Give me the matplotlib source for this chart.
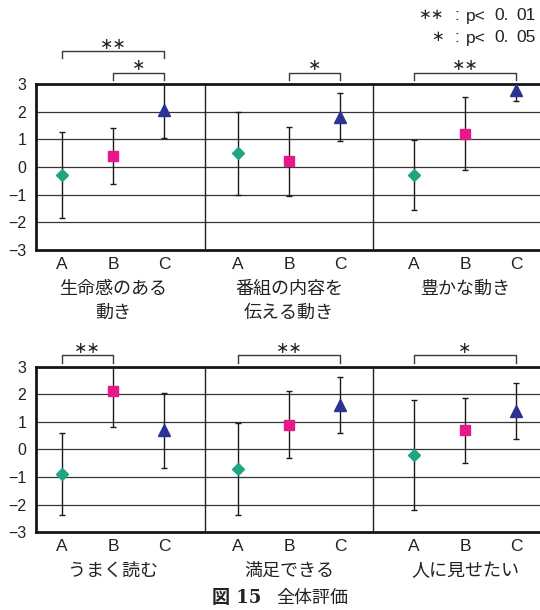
import matplotlib
matplotlib.use('Agg')
import matplotlib.pyplot as plt
from matplotlib.transforms import blended_transform_factory, offset_copy

# ---------------- data ----------------
conditions = ['A', 'B', 'C']
top_titles = [['生命感のある', '動き'], ['番組の内容を', '伝える動き'], ['豊かな動き']]
bottom_titles = [['うまく読む'], ['満足できる'], ['人に見せたい']]

top_means = [[-0.3, 0.4, 2.05], [0.5, 0.2, 1.8], [-0.3, 1.2, 2.8]]
top_err = [[1.55, 1.02, 1.0], [1.5, 1.25, 0.86], [1.27, 1.32, 0.4]]
bottom_means = [[-0.88, 2.12, 0.7], [-0.7, 0.9, 1.6], [-0.2, 0.7, 1.4]]
bottom_err = [[1.49, 1.32, 1.36], [1.67, 1.22, 1.02], [2.0, 1.18, 1.02]]

ST = '\u2217'
# (from condition, to condition, bracket level, label)
top_sig = [[(0, 2, 2, ST * 2), (1, 2, 1, ST)], [(1, 2, 1, ST)], [(0, 2, 1, ST * 2)]]
bottom_sig = [[(0, 1, 1, ST * 2)], [(0, 2, 1, ST * 2)], [(0, 2, 1, ST)]]

legend_marks = [ST * 2, ST]
legend_pieces = [[':', 'p<', '0.', '01'], [':', 'p<', '0.', '05']]
caption_num = '図 15'
caption_title = '全体評価'
y_ticks = [-3, -2, -1, 0, 1, 2, 3]

# ---------------- style ----------------
plt.rcParams['font.family'] = ['Liberation Sans', 'Noto Sans CJK JP', 'DejaVu Sans']
CJK = ['Noto Sans CJK JP', 'DejaVu Sans']
markers = ['D', 's', '^']
msizes = [6.0, 7.2, 8.0]
colors = ['#1fa585', '#e8178a', '#2c3192']
group_off = [0.0, 3.45, 6.9]
dividers = [2.80, 6.10]
XLIM = (-0.51, 9.37)
level_y = {1: 3.41, 2: 4.19}
leg = 0.26
TXT = '#222222'

W, H = 540, 610
fig = plt.figure(figsize=(W / 100, H / 100), dpi=100)
ax_top = fig.add_axes([36 / W, 1 - 250 / H, 1 - 36 / W, 166 / H])
ax_bot = fig.add_axes([36 / W, 1 - 532.3 / H, 1 - 36 / W, 165.6 / H])


def draw_row(ax, means, errs, titles, sigs):
    ax.set_xlim(*XLIM)
    ax.set_ylim(-3, 3)
    for yv in y_ticks[1:-1]:
        ax.axhline(yv, color='#353535', lw=0.9, zorder=1)
    for d in dividers:
        ax.axvline(d, color='#202020', lw=1.0, zorder=1)
    star_tr = offset_copy(ax.transData, fig=fig, x=0, y=4.8, units='points')
    xt = []
    for g in range(3):
        xs = [group_off[g] + i for i in range(3)]
        xt += xs
        for i in range(3):
            ax.errorbar([xs[i]], [means[g][i]], yerr=[errs[g][i]], fmt='none',
                        ecolor='#1a1a1a', elinewidth=1.0, capsize=2.4, capthick=1.0,
                        zorder=3)
            ax.plot([xs[i]], [means[g][i]], linestyle='none', marker=markers[i],
                    ms=msizes[i], color=colors[i], mec=colors[i], zorder=4)
        # significance brackets
        for (a, b, lev, lab) in sigs[g]:
            yb = level_y[lev]
            xa, xb = group_off[g] + a, group_off[g] + b
            ax.plot([xa, xa, xb, xb], [yb - leg, yb, yb, yb - leg], color='#3a3a3a',
                    lw=1.0, clip_on=False, zorder=2)
            ax.text((xa + xb) / 2, yb, lab, ha='center', va='center',
                    fontsize=11.5, color=TXT, family='DejaVu Sans', transform=star_tr)
        # category names
        tr = blended_transform_factory(ax.transData, ax.transAxes)
        for k, line in enumerate(titles[g]):
            ax.text(group_off[g] + 1, -0.235 - 0.143 * k, line, transform=tr,
                    ha='center', va='center', fontsize=13, family=CJK, color=TXT)
    ax.set_xticks(xt)
    ax.set_xticklabels(conditions * 3, fontsize=12.5, color=TXT)
    ax.set_yticks(y_ticks)
    ax.set_yticklabels([str(v).replace('-', '\u2212') for v in y_ticks],
                       fontsize=11.5, color=TXT)
    ax.tick_params(axis='x', length=0, pad=5)
    ax.tick_params(axis='y', length=0, pad=7)
    for s in ['top', 'bottom', 'left']:
        ax.spines[s].set_linewidth(2.0)
        ax.spines[s].set_color('#151515')
    ax.spines['right'].set_visible(False)


draw_row(ax_top, top_means, top_err, top_titles, top_sig)
draw_row(ax_bot, bottom_means, bottom_err, bottom_titles, bottom_sig)

# significance legend (top right)
piece_x = [457, 466, 494, 516]
piece_ha = ['center', 'left', 'left', 'left']
for k, base in enumerate([20.5, 42.5]):
    fig.text(443.5 / W, 1 - (base - 6) / H, legend_marks[k], ha='right', va='center',
             fontsize=11, family='DejaVu Sans', color=TXT)
    for p, txt in enumerate(legend_pieces[k]):
        fig.text(piece_x[p] / W, 1 - base / H, txt, ha=piece_ha[p], va='baseline',
                 fontsize=12.5, color=TXT)

fig.text(212 / W, 1 - 598 / H, caption_num, ha='left', va='center', fontsize=13,
         family=['DejaVu Serif', 'Noto Sans CJK JP'], weight='bold', color=TXT)
fig.text(276 / W, 1 - 598 / H, caption_title, ha='left', va='center', fontsize=13,
         family=CJK, color=TXT)

fig.savefig('out.png', dpi=100, facecolor='white')
